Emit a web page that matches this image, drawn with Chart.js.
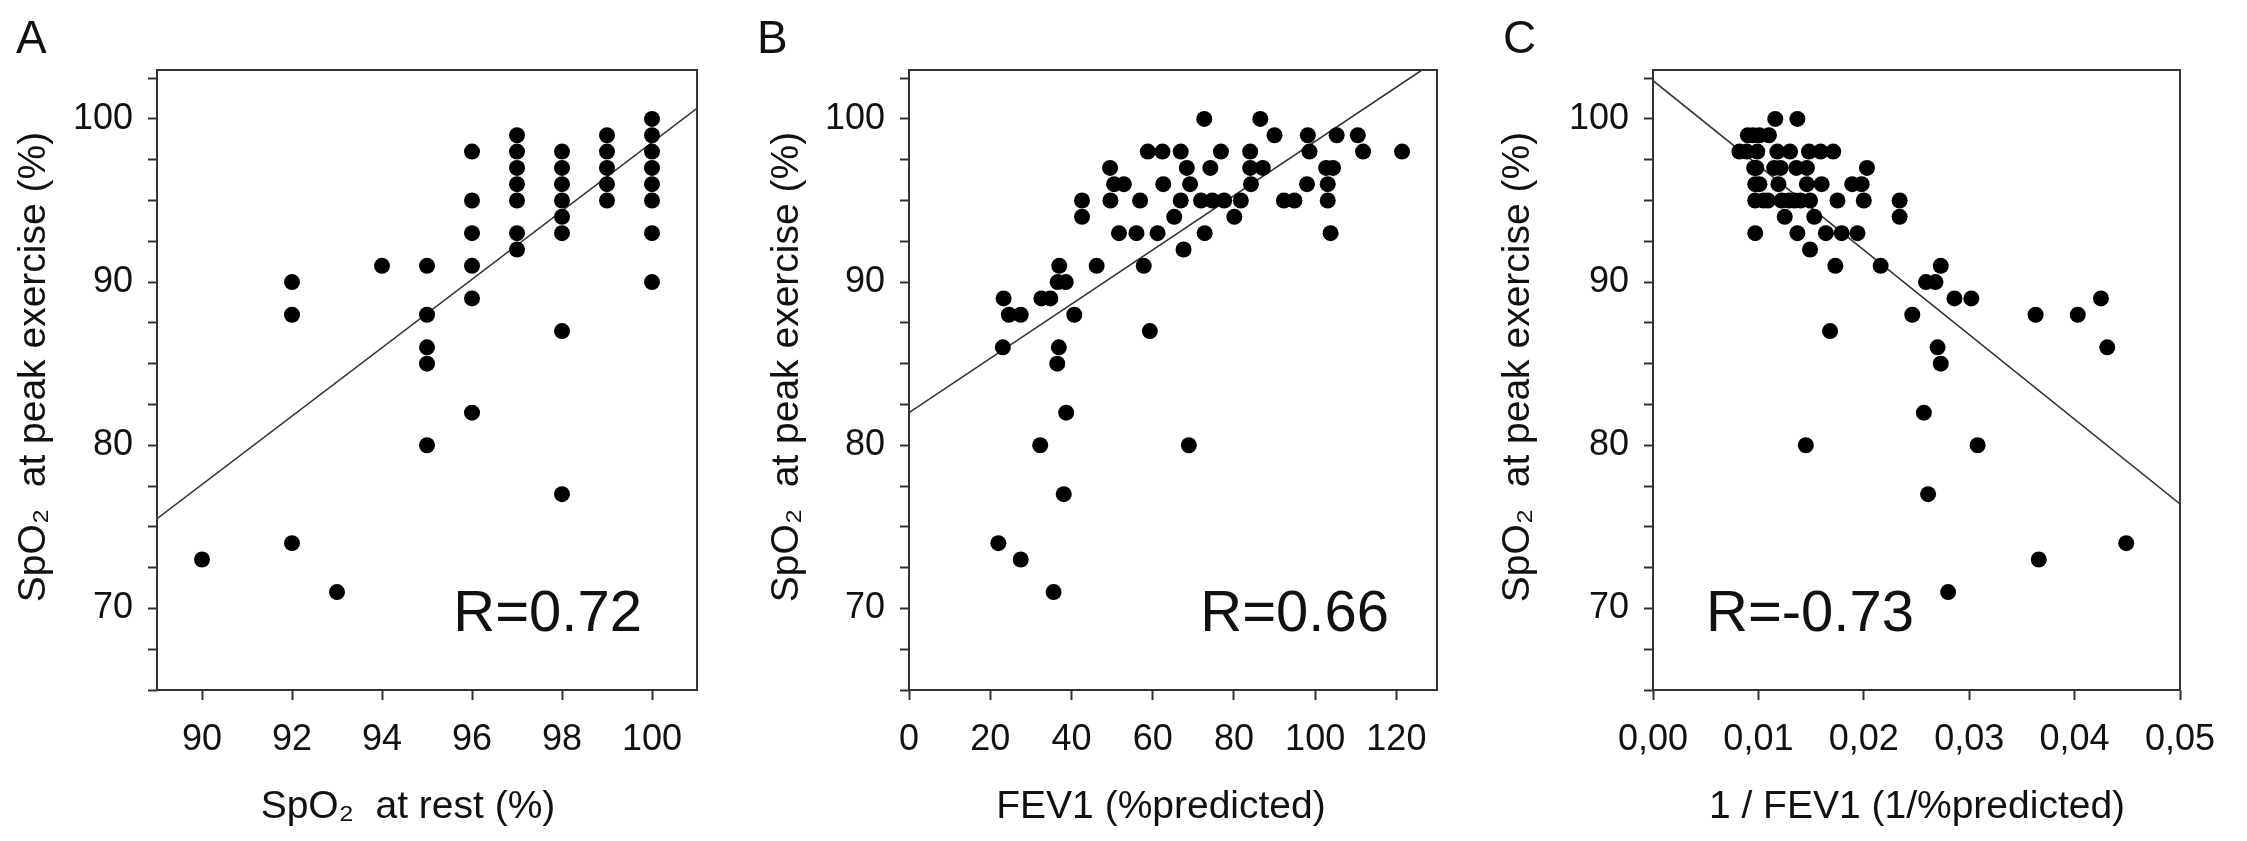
<!DOCTYPE html>
<html>
<head>
<meta charset="utf-8">
<title>SpO2 at peak exercise</title>
<script src="https://cdn.jsdelivr.net/npm/chart.js@4.4.0/dist/chart.umd.min.js"></script>
<style>
  html, body { margin: 0; padding: 0; background: #fff; }
  body { width: 2247px; height: 841px; position: relative; overflow: hidden; }
  canvas { position: absolute; top: 0; display: block; }
</style>
</head>
<body>
<canvas id="chartA" width="740" height="841" style="left:0px"></canvas>
<canvas id="chartB" width="745" height="841" style="left:740px"></canvas>
<canvas id="chartC" width="762" height="841" style="left:1485px"></canvas>
<script>
// panel A: SpO2 at rest vs SpO2 at peak exercise
const restA = [90, 92, 92, 92, 93, 94, 95, 95, 95, 95, 95,
  96, 96, 96, 96, 96, 96, 97, 97, 97, 97, 97, 97, 97,
  98, 98, 98, 98, 98, 98, 98, 98, 99, 99, 99, 99, 99,
  100, 100, 100, 100, 100, 100, 100, 100];
const peakA = [73, 90, 88, 74, 71, 91, 91, 88, 86, 85, 80,
  98, 95, 93, 91, 89, 82, 99, 98, 97, 96, 95, 93, 92,
  98, 97, 96, 95, 94, 93, 87, 77, 99, 98, 97, 96, 95,
  100, 99, 98, 97, 96, 95, 93, 90];

// panel B: FEV1 (%predicted)
const fevB = [72.7, 86.5,
  90.0, 98.2, 105.3, 110.5,
  58.8, 62.4, 66.9, 76.8, 84.0, 98.6, 111.8, 121.4,
  49.5, 68.4, 74.2, 84.0, 87.1, 102.7, 104.4,
  50.5, 52.9, 62.6, 69.2, 84.2, 98.0, 103.1,
  42.6, 49.6, 56.9, 66.9, 71.9, 74.7, 77.6, 81.7, 92.3, 94.9, 103.1,
  42.6, 65.3, 80.1,
  51.7, 56.0, 61.2, 72.8, 103.8,
  67.6,
  37.0, 46.2, 57.8,
  36.6, 38.6,
  23.3, 32.6, 34.8,
  24.6, 27.5, 40.7,
  59.3,
  23.1, 36.9,
  36.5, 38.7, 32.3, 68.9, 38.1, 22.0, 27.5, 35.6];
const peakB = [100, 100,
  99, 99, 99, 99,
  98, 98, 98, 98, 98, 98, 98, 98,
  97, 97, 97, 97, 97, 97, 97,
  96, 96, 96, 96, 96, 96, 96,
  95, 95, 95, 95, 95, 95, 95, 95, 95, 95, 95,
  94, 94, 94,
  93, 93, 93, 93, 93,
  92,
  91, 91, 91,
  90, 90,
  89, 89, 89,
  88, 88, 88,
  87,
  86, 86,
  85, 82, 80, 80, 77, 74, 73, 71];

// panel C: 1 / FEV1
const invC = [0.0116, 0.0137,
  0.0090, 0.0095, 0.0101, 0.0110,
  0.0082, 0.0089, 0.0099, 0.0118, 0.0130, 0.0148, 0.0159, 0.0171,
  0.0096, 0.0098, 0.0115, 0.0121, 0.0136, 0.0146, 0.0203,
  0.0097, 0.0101, 0.0119, 0.0146, 0.0160, 0.0189, 0.0198,
  0.0097, 0.0105, 0.0109, 0.0122, 0.0129, 0.0134, 0.0140, 0.0149, 0.0175, 0.0200, 0.0234,
  0.0125, 0.0153, 0.0234,
  0.0097, 0.0137, 0.0164, 0.0179, 0.0194,
  0.0149,
  0.0173, 0.0216, 0.0273,
  0.0259, 0.0268,
  0.0286, 0.0302, 0.0425,
  0.0246, 0.0363, 0.0403,
  0.0168,
  0.0270, 0.0431,
  0.0273, 0.0257, 0.0145, 0.0308, 0.0261, 0.0449, 0.0366, 0.0280];
const peakC = peakB.slice();

// regression lines (end points)
const fitAx = [89, 101], fitAy = [75.5, 100.65];
const fitBx = [0, 126.3], fitBy = [82.0, 103];
const fitCx = [0, 0.05], fitCy = [102.35, 76.4];

// axis ticks
const yTicks = [65, 67.5, 70, 72.5, 75, 77.5, 80, 82.5, 85, 87.5, 90, 92.5, 95, 97.5, 100, 102.5];
const yLabels = [70, 80, 90, 100];
const xTicksA = [90, 92, 94, 96, 98, 100];
const xTicksB = [0, 20, 40, 60, 80, 100, 120];
const xTicksC = [0, 0.01, 0.02, 0.03, 0.04, 0.05];

const yTitle = 'SpO₂  at peak exercise (%)';

const FAMILY = '"Liberation Sans", Arial, Helvetica, sans-serif';
Chart.defaults.font.family = FAMILY;
Chart.defaults.color = '#111';

const pairs = (xs, ys) => xs.map((x, i) => ({ x: x, y: ys[i] }));

// box round the plot, axis titles, panel letter and R value
const frame = {
  id: 'frame',
  afterDatasetsDraw(chart, args, opts) {
    const { ctx, chartArea: a } = chart;
    ctx.save();
    ctx.strokeStyle = '#333';
    ctx.lineWidth = 2;
    ctx.strokeRect(a.left, a.top, a.right - a.left, a.bottom - a.top);

    ctx.fillStyle = '#111';
    ctx.textBaseline = 'alphabetic';

    // R value
    ctx.font = '58px ' + FAMILY;
    ctx.textAlign = opts.align;
    const rx = opts.align === 'left' ? a.left + opts.dx : a.right - opts.dx;
    ctx.fillText(opts.r, rx, a.bottom - 59);

    // panel letter
    ctx.font = '46px ' + FAMILY;
    ctx.textAlign = 'left';
    ctx.fillText(opts.letter, opts.letterX, 53);

    // axis titles
    ctx.font = '39px ' + FAMILY;
    ctx.textAlign = 'center';
    ctx.fillText(opts.xTitle, opts.xTitleX, 818);
    ctx.translate(opts.yTitleX, 367);
    ctx.rotate(-Math.PI / 2);
    ctx.fillText(yTitle, 0, 0);
    ctx.restore();
  }
};

function makeChart(id, p) {
  const ctx = document.getElementById(id).getContext('2d');
  return new Chart(ctx, {
    type: 'scatter',
    data: {
      datasets: [
        {
          data: p.points,
          backgroundColor: '#000',
          borderColor: '#000',
          borderWidth: 0,
          pointRadius: 8,
          pointHoverRadius: 8,
          order: 1,
        },
        {
          data: p.fit,
          showLine: true,
          borderColor: '#333',
          borderWidth: 1.6,
          pointRadius: 0,
          fill: false,
          order: 2,
        },
      ],
    },
    options: {
      responsive: false,
      animation: false,
      events: [],
      layout: { padding: { left: 0, right: p.right, top: 70, bottom: 0 } },
      plugins: {
        legend: { display: false },
        tooltip: { enabled: false },
        frame: {
          r: p.r, align: p.rAlign, dx: p.rdx,
          letter: p.letter, letterX: p.letterX,
          xTitle: p.xTitle, xTitleX: p.xTitleX, yTitleX: p.yTitleX,
        },
      },
      scales: {
        x: {
          type: 'linear',
          min: p.xmin,
          max: p.xmax,
          afterBuildTicks: (s) => { s.ticks = p.xTicks.map((v) => ({ value: v })); },
          afterFit: (s) => { s.height = 151; },
          border: { display: false },
          grid: { drawOnChartArea: false, drawTicks: true, tickLength: 10, tickWidth: 2, tickColor: '#333', color: '#333' },
          ticks: { autoSkip: false, maxRotation: 0, padding: 18, font: { size: 36 }, callback: p.xFmt },
        },
        y: {
          type: 'linear',
          min: 65,
          max: 103,
          afterBuildTicks: (s) => { s.ticks = yTicks.map((v) => ({ value: v })); },
          afterFit: (s) => { s.width = p.left; },
          border: { display: false },
          grid: { drawOnChartArea: false, drawTicks: true, tickLength: 9, tickWidth: 2, tickColor: '#333', color: '#333' },
          ticks: {
            autoSkip: false,
            padding: 15,
            font: { size: 36 },
            callback: (v) => (yLabels.includes(v) ? String(v) : ''),
          },
        },
      },
    },
    plugins: [frame],
  });
}

makeChart('chartA', {
  points: pairs(restA, peakA),
  fit: pairs(fitAx, fitAy),
  xmin: 89, xmax: 101, xTicks: xTicksA,
  xFmt: (v) => String(v),
  xTitle: 'SpO₂  at rest (%)', xTitleX: 408, yTitleX: 45,
  left: 157, right: 43,
  r: 'R=0.72', rAlign: 'right', rdx: 55,
  letter: 'A', letterX: 16,
});

makeChart('chartB', {
  points: pairs(fevB, peakB),
  fit: pairs(fitBx, fitBy),
  xmin: 0, xmax: 130, xTicks: xTicksB,
  xFmt: (v) => String(v),
  xTitle: 'FEV1 (%predicted)', xTitleX: 421, yTitleX: 58,
  left: 169, right: 48,
  r: 'R=0.66', rAlign: 'right', rdx: 48,
  letter: 'B', letterX: 17,
});

makeChart('chartC', {
  points: pairs(invC, peakC),
  fit: pairs(fitCx, fitCy),
  xmin: 0, xmax: 0.05, xTicks: xTicksC,
  xFmt: (v) => v.toFixed(2).replace('.', ','),
  xTitle: '1 / FEV1 (1/%predicted)', xTitleX: 432, yTitleX: 44,
  left: 168, right: 67,
  r: 'R=-0.73', rAlign: 'left', rdx: 53,
  letter: 'C', letterX: 18,
});
</script>
</body>
</html>
